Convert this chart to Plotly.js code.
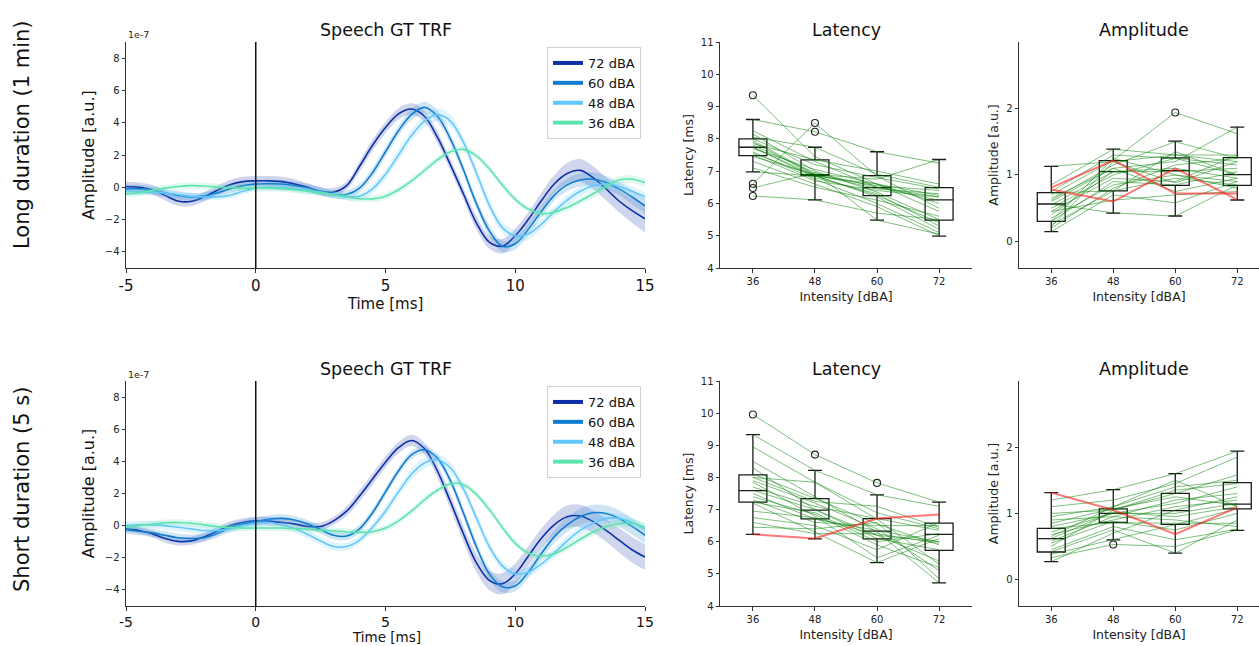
<!DOCTYPE html>
<html>
<head>
<meta charset="utf-8">
<script src="https://cdn.plot.ly/plotly-3.0.1.min.js"></script>
<style>html,body{margin:0;padding:0;background:#fff;}#chart{width:1259px;height:646px;}</style>
</head>
<body>
<div id="chart"></div>
<script>
// ---------------- DATA ----------------
const t = [-5,-4.5,-4,-3.5,-3,-2.5,-2,-1.5,-1,-0.5,0,0.5,1,1.5,2,2.5,3,3.5,4,4.5,5,5.5,6,6.5,7,7.5,8,8.5,9,9.5,10,10.5,11,11.5,12,12.5,13,13.5,14,14.5,15];
const levels = ['72 dBA','60 dBA','48 dBA','36 dBA'];
const levelColors = ['#0d2ea6','#0f7ccf','#62c8fb','#5de3ad'];
const bandColors = ['rgba(13,46,166,0.2)','rgba(15,124,207,0.2)','rgba(98,200,251,0.2)','rgba(93,227,173,0.2)'];

// Long duration (1 min), amplitude in units of 1e-7
const long72 = [0.05,0.0,-0.15,-0.5,-0.85,-0.88,-0.6,-0.2,0.15,0.35,0.4,0.4,0.35,0.2,0.0,-0.25,-0.3,0.1,1.3,2.6,3.7,4.55,4.85,4.4,3.1,1.4,-0.4,-2.2,-3.4,-3.65,-3.0,-2.0,-0.85,0.2,0.85,1.05,0.6,-0.1,-0.85,-1.45,-1.95];
const long60 = [-0.1,-0.1,-0.2,-0.35,-0.5,-0.6,-0.55,-0.35,-0.1,0.1,0.2,0.22,0.2,0.1,-0.05,-0.25,-0.45,-0.45,-0.05,0.9,2.2,3.5,4.5,4.95,4.4,3.0,1.1,-1.0,-2.7,-3.65,-3.5,-2.6,-1.5,-0.5,0.15,0.45,0.5,0.3,-0.1,-0.6,-1.15];
const long48 = [-0.25,-0.3,-0.3,-0.35,-0.45,-0.55,-0.6,-0.6,-0.5,-0.25,-0.05,0.0,-0.02,-0.1,-0.2,-0.3,-0.45,-0.58,-0.55,-0.1,0.8,2.0,3.2,4.1,4.5,4.1,2.8,0.9,-1.1,-2.5,-3.0,-2.9,-2.3,-1.5,-0.8,-0.25,0.1,0.2,0.05,-0.25,-0.6];
const long36 = [-0.4,-0.35,-0.2,-0.05,0.05,0.1,0.08,0.02,-0.02,-0.05,-0.05,-0.05,-0.08,-0.15,-0.25,-0.35,-0.45,-0.6,-0.7,-0.72,-0.55,-0.15,0.4,1.05,1.7,2.2,2.35,1.95,1.15,0.15,-0.75,-1.35,-1.62,-1.55,-1.25,-0.85,-0.4,0.05,0.45,0.5,0.3];
const longSe72 = [0.3,0.3,0.3,0.3,0.3,0.3,0.3,0.3,0.3,0.3,0.3,0.3,0.3,0.3,0.25,0.25,0.25,0.25,0.3,0.35,0.35,0.35,0.35,0.35,0.35,0.35,0.35,0.4,0.4,0.45,0.45,0.45,0.5,0.55,0.65,0.7,0.7,0.7,0.7,0.75,0.85];
const longSe60 = [0.25,0.25,0.25,0.25,0.25,0.25,0.25,0.25,0.25,0.25,0.25,0.25,0.25,0.25,0.25,0.25,0.25,0.25,0.25,0.3,0.3,0.3,0.35,0.35,0.35,0.3,0.3,0.3,0.35,0.35,0.35,0.35,0.35,0.35,0.4,0.4,0.4,0.4,0.4,0.45,0.45];
const longSe48 = [0.2,0.2,0.2,0.2,0.2,0.2,0.2,0.2,0.2,0.2,0.2,0.2,0.2,0.2,0.2,0.2,0.2,0.2,0.25,0.3,0.3,0.35,0.35,0.4,0.4,0.4,0.35,0.35,0.35,0.35,0.35,0.35,0.3,0.3,0.3,0.3,0.3,0.3,0.3,0.3,0.3];
const longSe36 = [0.2,0.2,0.2,0.2,0.2,0.2,0.2,0.2,0.2,0.2,0.2,0.2,0.2,0.2,0.2,0.2,0.2,0.2,0.2,0.2,0.2,0.2,0.2,0.2,0.2,0.2,0.2,0.2,0.2,0.2,0.2,0.2,0.2,0.2,0.2,0.2,0.25,0.25,0.25,0.25,0.25];

// Short duration (5 s)
const short72 = [-0.2,-0.3,-0.5,-0.8,-0.98,-0.95,-0.7,-0.35,0.0,0.2,0.3,0.28,0.2,0.1,-0.05,-0.05,0.3,0.9,1.85,2.9,3.95,4.85,5.3,4.8,3.4,1.5,-0.5,-2.3,-3.4,-3.62,-3.0,-1.9,-0.8,0.05,0.55,0.6,0.25,-0.3,-0.9,-1.5,-1.95];
const short60 = [-0.25,-0.35,-0.45,-0.6,-0.75,-0.8,-0.75,-0.5,-0.15,0.1,0.25,0.4,0.45,0.35,0.1,-0.25,-0.6,-0.65,-0.2,0.8,2.1,3.4,4.4,4.72,4.2,2.8,0.8,-1.3,-3.0,-3.8,-3.75,-2.9,-1.75,-0.7,0.05,0.55,0.8,0.75,0.45,-0.05,-0.6];
const short48 = [0.0,0.05,0.05,0.0,-0.1,-0.2,-0.3,-0.3,-0.2,0.0,0.15,0.2,0.05,-0.2,-0.55,-0.95,-1.3,-1.3,-0.9,-0.1,0.9,2.1,3.2,3.9,4.1,3.6,2.3,0.5,-1.3,-2.5,-3.0,-2.9,-2.4,-1.7,-0.95,-0.3,0.15,0.45,0.45,0.2,-0.2];
const short36 = [-0.1,0.0,0.1,0.18,0.2,0.15,0.05,-0.05,-0.12,-0.15,-0.15,-0.15,-0.15,-0.18,-0.22,-0.28,-0.32,-0.38,-0.42,-0.38,-0.15,0.3,0.9,1.6,2.2,2.6,2.55,1.95,1.0,-0.1,-1.1,-1.7,-1.9,-1.75,-1.35,-0.85,-0.4,-0.05,0.12,0.15,-0.1];
const shortSe72 = [0.2,0.2,0.2,0.25,0.25,0.25,0.25,0.25,0.25,0.25,0.25,0.25,0.25,0.25,0.25,0.25,0.25,0.3,0.35,0.35,0.35,0.35,0.35,0.35,0.4,0.45,0.5,0.55,0.6,0.65,0.65,0.6,0.6,0.65,0.7,0.7,0.7,0.7,0.75,0.8,0.8];
const shortSe60 = [0.25,0.25,0.25,0.25,0.25,0.25,0.25,0.25,0.25,0.25,0.25,0.25,0.25,0.25,0.25,0.25,0.25,0.25,0.25,0.25,0.25,0.25,0.25,0.25,0.25,0.25,0.3,0.3,0.35,0.35,0.35,0.35,0.35,0.4,0.45,0.5,0.5,0.5,0.5,0.5,0.5];
const shortSe48 = [0.25,0.25,0.25,0.25,0.25,0.25,0.25,0.25,0.25,0.25,0.25,0.25,0.25,0.25,0.25,0.25,0.25,0.25,0.25,0.25,0.3,0.3,0.35,0.35,0.35,0.35,0.3,0.3,0.3,0.3,0.3,0.3,0.3,0.3,0.3,0.3,0.3,0.3,0.3,0.3,0.3];
const shortSe36 = [0.2,0.2,0.2,0.2,0.2,0.2,0.2,0.2,0.2,0.2,0.2,0.2,0.2,0.2,0.2,0.2,0.2,0.2,0.2,0.2,0.2,0.2,0.2,0.2,0.2,0.2,0.2,0.2,0.2,0.2,0.2,0.2,0.2,0.2,0.2,0.2,0.25,0.25,0.25,0.25,0.25];

// Box panels: intensities and subjects [36,48,60,72]
const intensities = ['36','48','60','72'];
const positions = [1,2,3,4];

const latLongQ1 = [7.48,6.86,6.24,5.48];
const latLongMed = [7.74,6.87,6.49,6.11];
const latLongQ3 = [8.0,7.35,6.86,6.49];
const latLongLo = [6.98,6.11,5.48,4.99];
const latLongHi = [8.6,7.74,7.6,7.36];
const latLongOutX = [1,1,1,1,2,2];
const latLongOutY = [9.35,6.61,6.48,6.23,8.49,8.22];
const latLongSubj = [
  [9.35,7.45,6.6,5.75],[8.6,8.22,7.6,7.25],[8.25,7.3,6.5,6.2],[8.15,7.0,6.35,5.5],
  [8.05,7.74,6.9,6.5],[8.0,7.2,6.8,6.45],[7.95,6.9,6.45,6.3],[7.9,6.87,6.2,5.2],
  [7.85,7.35,7.0,6.6],[7.8,6.95,6.5,6.1],[7.75,6.8,6.3,5.3],[7.74,6.86,6.55,6.4],
  [7.7,7.05,6.6,6.0],[7.6,6.75,6.0,5.1],[7.55,6.85,6.25,5.4],[7.5,6.7,6.4,6.2],
  [7.45,6.9,6.75,7.36],[7.3,6.6,5.9,5.0],[7.1,6.5,6.1,5.6],[6.98,6.85,6.6,6.25],
  [6.61,8.49,6.85,5.85],[6.48,6.95,5.48,5.05],[6.23,6.11,5.7,5.5]
];
const latLongRed = [];

const ampLongQ1 = [0.30,0.76,0.844,0.844];
const ampLongMed = [0.563,1.05,1.065,1.005];
const ampLongQ3 = [0.734,1.216,1.256,1.26];
const ampLongLo = [0.146,0.427,0.382,0.623];
const ampLongHi = [1.13,1.387,1.51,1.72];
const ampLongOutX = [3];
const ampLongOutY = [1.94];
const ampLongSubj = [
  [1.13,1.2,1.3,1.2],[0.85,1.387,1.3,1.3],[0.75,1.3,1.25,1.0],[0.7,1.22,1.94,1.62],
  [0.62,1.15,1.5,1.25],[0.6,1.1,1.2,1.72],[0.55,1.05,1.05,1.1],[0.5,1.0,1.25,1.15],
  [0.45,0.95,0.9,1.3],[0.4,1.05,1.1,0.95],[0.35,0.85,1.0,0.9],[0.3,0.9,0.85,1.05],
  [0.25,0.76,0.95,0.85],[0.2,0.8,1.15,1.25],[0.146,0.7,0.58,0.9],[0.56,0.43,0.38,0.85],
  [0.65,1.1,0.75,0.95],[0.3,1.25,1.0,0.8],[0.22,1.2,0.88,1.2],[0.73,0.76,1.35,1.0],
  [0.45,0.62,0.7,0.75]
];
const ampLongRed = [[0.81,1.22,0.72,0.72],[0.78,0.6,1.1,0.63]];

const latShortQ1 = [7.23,6.71,6.09,5.73];
const latShortMed = [7.59,6.98,6.33,6.23];
const latShortQ3 = [8.08,7.34,6.72,6.58];
const latShortLo = [6.23,6.09,5.35,4.72];
const latShortHi = [9.33,8.22,7.46,7.23];
const latShortOutX = [1,2,3];
const latShortOutY = [9.96,8.71,7.83];
const latShortSubj = [
  [9.96,8.71,7.83,7.23],[9.33,8.22,7.46,7.1],[8.95,7.85,6.7,5.3],[8.5,7.4,6.3,4.72],
  [8.3,7.0,6.2,6.0],[8.1,7.35,6.55,5.9],[8.0,7.85,6.9,6.4],[7.9,7.2,6.4,5.1],
  [7.85,6.8,5.5,6.2],[7.7,7.1,6.72,6.35],[7.6,7.0,6.1,5.75],[7.5,6.7,6.35,6.0],
  [7.4,6.85,5.9,5.2],[7.3,6.6,6.5,6.5],[7.23,6.9,6.0,6.25],[7.2,6.3,5.35,6.1],
  [6.95,6.75,6.2,5.4],[6.75,6.5,5.75,6.6],[6.6,6.25,6.25,5.95],[6.45,6.4,6.6,4.85],
  [8.0,7.25,7.1,6.45]
];
const latShortRed = [[6.23,6.1,6.72,6.85]];

const ampShortQ1 = [0.416,0.862,0.832,1.068];
const ampShortMed = [0.617,1.0,1.04,1.138];
const ampShortQ3 = [0.772,1.068,1.303,1.464];
const ampShortLo = [0.27,0.60,0.40,0.742];
const ampShortHi = [1.313,1.358,1.6,1.94];
const ampShortOutX = [2];
const ampShortOutY = [0.53];
const ampShortSubj = [
  [1.2,1.358,1.6,1.94],[1.1,1.2,1.45,1.85],[1.0,1.05,1.3,1.58],[0.95,1.1,1.4,1.5],
  [0.9,0.95,1.2,1.3],[0.85,1.07,1.25,1.12],[0.8,1.0,1.0,1.15],[0.77,0.86,0.85,0.85],
  [0.72,1.0,1.15,1.4],[0.68,0.9,1.1,1.2],[0.62,1.02,0.95,1.1],[0.58,0.95,0.9,0.8],
  [0.55,0.88,0.75,1.0],[0.5,1.05,1.35,1.45],[0.45,0.8,0.6,0.76],[0.42,0.75,0.4,0.9],
  [0.38,0.6,0.83,1.07],[0.33,0.53,0.5,0.75],[0.27,0.7,1.05,1.25],[0.65,1.1,1.5,1.1]
];
const ampShortRed = [[1.313,1.05,0.687,1.09]];

// ---------------- BUILD ----------------
const FONT = 'DejaVu Sans, sans-serif';
const traces = [];

function trfPanel(xa, ya, means, ses, legendId) {
  means.forEach((m, i) => {
    const se = ses[i];
    traces.push({type:'scatter', mode:'lines', x:t, y:m.map((v,k)=>v-se[k]), xaxis:xa, yaxis:ya,
      line:{width:0, shape:'spline', color:bandColors[i]}, showlegend:false, hoverinfo:'skip'});
    traces.push({type:'scatter', mode:'lines', x:t, y:m.map((v,k)=>v+se[k]), xaxis:xa, yaxis:ya,
      fill:'tonexty', fillcolor:bandColors[i],
      line:{width:0, shape:'spline', color:bandColors[i]}, showlegend:false, hoverinfo:'skip'});
    traces.push({type:'scatter', mode:'lines', x:t, y:m, xaxis:xa, yaxis:ya, name:levels[i],
      line:{width:1.6, shape:'spline', color:levelColors[i]}, showlegend:false});
  });
  levels.forEach((name, i) => {
    traces.push({type:'scatter', mode:'lines', x:[null], y:[null], xaxis:xa, yaxis:ya, name:name,
      legend:legendId, showlegend:true, line:{width:4, color:levelColors[i]}});
  });
}

function subjLines(subj) {
  const xs = [], ys = [];
  subj.forEach(s => { s.forEach((v,k)=>{ xs.push(positions[k]); ys.push(v); }); xs.push(null); ys.push(null); });
  return {xs, ys};
}

function boxPanel(xa, ya, q1, med, q3, lo, hi, outX, outY, subj, red) {
  const g = subjLines(subj);
  traces.push({type:'scatter', mode:'lines', x:g.xs, y:g.ys, xaxis:xa, yaxis:ya,
    line:{color:'rgba(0,128,0,0.5)', width:1}, showlegend:false, hoverinfo:'skip', connectgaps:false});
  if (red.length) {
    const r = subjLines(red);
    traces.push({type:'scatter', mode:'lines', x:r.xs, y:r.ys, xaxis:xa, yaxis:ya,
      line:{color:'rgba(255,30,30,0.6)', width:2}, showlegend:false, hoverinfo:'skip', connectgaps:false});
  }
  traces.push({type:'box', x:positions, q1:q1, median:med, q3:q3, lowerfence:lo, upperfence:hi,
    xaxis:xa, yaxis:ya, width:0.45, whiskerwidth:0.5, boxpoints:false,
    line:{color:'#1a1a1a', width:1.3}, fillcolor:'rgba(0,0,0,0)', showlegend:false, hoverinfo:'skip'});
  traces.push({type:'scatter', mode:'markers', x:outX, y:outY, xaxis:xa, yaxis:ya,
    marker:{symbol:'circle-open', size:7, color:'#222', line:{width:1.1}}, showlegend:false, hoverinfo:'skip'});
}

trfPanel('x','y',[long72,long60,long48,long36],[longSe72,longSe60,longSe48,longSe36],'legend');
boxPanel('x2','y2',latLongQ1,latLongMed,latLongQ3,latLongLo,latLongHi,latLongOutX,latLongOutY,latLongSubj,latLongRed);
boxPanel('x3','y3',ampLongQ1,ampLongMed,ampLongQ3,ampLongLo,ampLongHi,ampLongOutX,ampLongOutY,ampLongSubj,ampLongRed);
trfPanel('x4','y4',[short72,short60,short48,short36],[shortSe72,shortSe60,shortSe48,shortSe36],'legend2');
boxPanel('x5','y5',latShortQ1,latShortMed,latShortQ3,latShortLo,latShortHi,latShortOutX,latShortOutY,latShortSubj,latShortRed);
boxPanel('x6','y6',ampShortQ1,ampShortMed,ampShortQ3,ampShortLo,ampShortHi,ampShortOutX,ampShortOutY,ampShortSubj,ampShortRed);

// ---------------- LAYOUT ----------------
const W = 1259, H = 646;
const px = v => v / W, py = v => 1 - v / H;
const row1 = [py(268), py(42)], row2 = [py(606), py(381)];
const trfX = [px(126), px(645)], latX = [px(720), px(972)], ampX = [px(1019), 1];

const base = {showline:true, linecolor:'#333', linewidth:1, ticks:'outside', ticklen:3.5, tickwidth:1,
  tickcolor:'#333', showgrid:false, zeroline:false, fixedrange:true};

function trfAxes(ydom, anchorX, anchorY, showXTitle, tickSize) {
  return [
    Object.assign({}, base, {domain:trfX, anchor:anchorY, range:[-5,15], tickvals:[-5,0,5,10,15], ticktext:['-5','0','5','10','15'],
      tickfont:{size:tickSize, color:'#111'}, title:{text:showXTitle ? 'Time [ms]' : '', font:{size:15, color:'#111'}, standoff:4}}),
    Object.assign({}, base, {domain:ydom, anchor:anchorX, range:[-5,9], tickvals:[-4,-2,0,2,4,6,8],
      tickfont:{size:10, color:'#222'}, title:{text:'Amplitude [a.u.]', font:{size:16, color:'#111'}, standoff:6}})
  ];
}
function latAxes(ydom, anchorX, anchorY) {
  return [
    Object.assign({}, base, {domain:latX, anchor:anchorY, range:[0.47,4.53], tickvals:positions, ticktext:intensities,
      tickfont:{size:10, color:'#222'}, title:{text:'Intensity [dBA]', font:{size:12.5, color:'#222'}, standoff:6}}),
    Object.assign({}, base, {domain:ydom, anchor:anchorX, range:[4,11], tickvals:[4,5,6,7,8,9,10,11],
      tickfont:{size:10, color:'#222'}, title:{text:'Latency [ms]', font:{size:12.5, color:'#222'}, standoff:4}})
  ];
}
function ampAxes(ydom, anchorX, anchorY) {
  return [
    Object.assign({}, base, {domain:ampX, anchor:anchorY, range:[0.48,4.35], tickvals:positions, ticktext:intensities,
      tickfont:{size:10, color:'#222'}, title:{text:'Intensity [dBA]', font:{size:12.5, color:'#222'}, standoff:6}}),
    Object.assign({}, base, {domain:ydom, anchor:anchorX, range:[-0.4,3.0], tickvals:[0,1,2],
      tickfont:{size:10, color:'#222'}, title:{text:'Amplitude [a.u.]', font:{size:12.5, color:'#222'}, standoff:4}})
  ];
}

const [xa1, ya1] = trfAxes(row1, 'x', 'y', true, 15);
const [xa2, ya2] = latAxes(row1, 'x2', 'y2');
const [xa3, ya3] = ampAxes(row1, 'x3', 'y3');
const [xa4, ya4] = trfAxes(row2, 'x4', 'y4', false, 14);
const [xa5, ya5] = latAxes(row2, 'x5', 'y5');
const [xa6, ya6] = ampAxes(row2, 'x6', 'y6');

function titleAnn(text, xc, yc, size) {
  return {text:text, xref:'paper', yref:'paper', x:xc, y:yc, xanchor:'center', yanchor:'middle', showarrow:false,
    font:{size:size, color:'#111', family:FONT}};
}

const annotations = [
  titleAnn('Speech GT TRF', px(386), py(30), 17.5),
  titleAnn('Latency', px(846), py(30), 17.5),
  titleAnn('Amplitude', px(1144), py(30), 17.5),
  titleAnn('Speech GT TRF', px(386), py(369), 17.5),
  titleAnn('Latency', px(846), py(369), 17.5),
  titleAnn('Amplitude', px(1144), py(369), 17.5),
  // x-axis title of the lower TRF panel, kept just inside the bottom edge
  {text:'Time [ms]', xref:'paper', yref:'paper', x:px(386), y:0, xanchor:'center', yanchor:'bottom', yshift:-1, showarrow:false, font:{size:13.5, color:'#111', family:FONT}},
  {text:'1e-7', xref:'paper', yref:'paper', x:px(126), y:py(35), xanchor:'left', yanchor:'middle', showarrow:false, font:{size:9.5, color:'#222', family:FONT}},
  {text:'1e-7', xref:'paper', yref:'paper', x:px(126), y:py(374), xanchor:'left', yanchor:'middle', showarrow:false, font:{size:9.5, color:'#222', family:FONT}},
  {text:'Long duration (1 min)', xref:'paper', yref:'paper', x:px(22), y:py(135), textangle:-90, xanchor:'center', yanchor:'middle', showarrow:false, font:{size:21, color:'#111', family:FONT}},
  {text:'Short duration (5 s)', xref:'paper', yref:'paper', x:px(22), y:py(490), textangle:-90, xanchor:'center', yanchor:'middle', showarrow:false, font:{size:21, color:'#111', family:FONT}}
];

const shapes = [
  {type:'line', xref:'x', yref:'y domain', x0:0, x1:0, y0:0, y1:1, line:{color:'#111', width:1.5}},
  {type:'line', xref:'x4', yref:'y4 domain', x0:0, x1:0, y0:0, y1:1, line:{color:'#111', width:1.5}}
];

const legendBase = {xanchor:'right', yanchor:'top', bgcolor:'rgba(255,255,255,0.9)', bordercolor:'#d0d0d0', borderwidth:1,
  font:{size:13, color:'#111', family:FONT}, itemwidth:30, tracegroupgap:0, traceorder:'normal'};

const layout = {
  width:W, height:H, margin:{l:0, r:0, t:0, b:0}, paper_bgcolor:'#fff', plot_bgcolor:'rgba(0,0,0,0)',
  font:{family:FONT, color:'#111'},
  xaxis:xa1, yaxis:ya1, xaxis2:xa2, yaxis2:ya2, xaxis3:xa3, yaxis3:ya3,
  xaxis4:xa4, yaxis4:ya4, xaxis5:xa5, yaxis5:ya5, xaxis6:xa6, yaxis6:ya6,
  legend:Object.assign({}, legendBase, {x:px(641), y:py(47)}),
  legend2:Object.assign({}, legendBase, {x:px(641), y:py(386)}),
  annotations:annotations, shapes:shapes, showlegend:true, hovermode:false
};

Plotly.newPlot('chart', traces, layout, {displayModeBar:false, staticPlot:true});
</script>
</body>
</html>
